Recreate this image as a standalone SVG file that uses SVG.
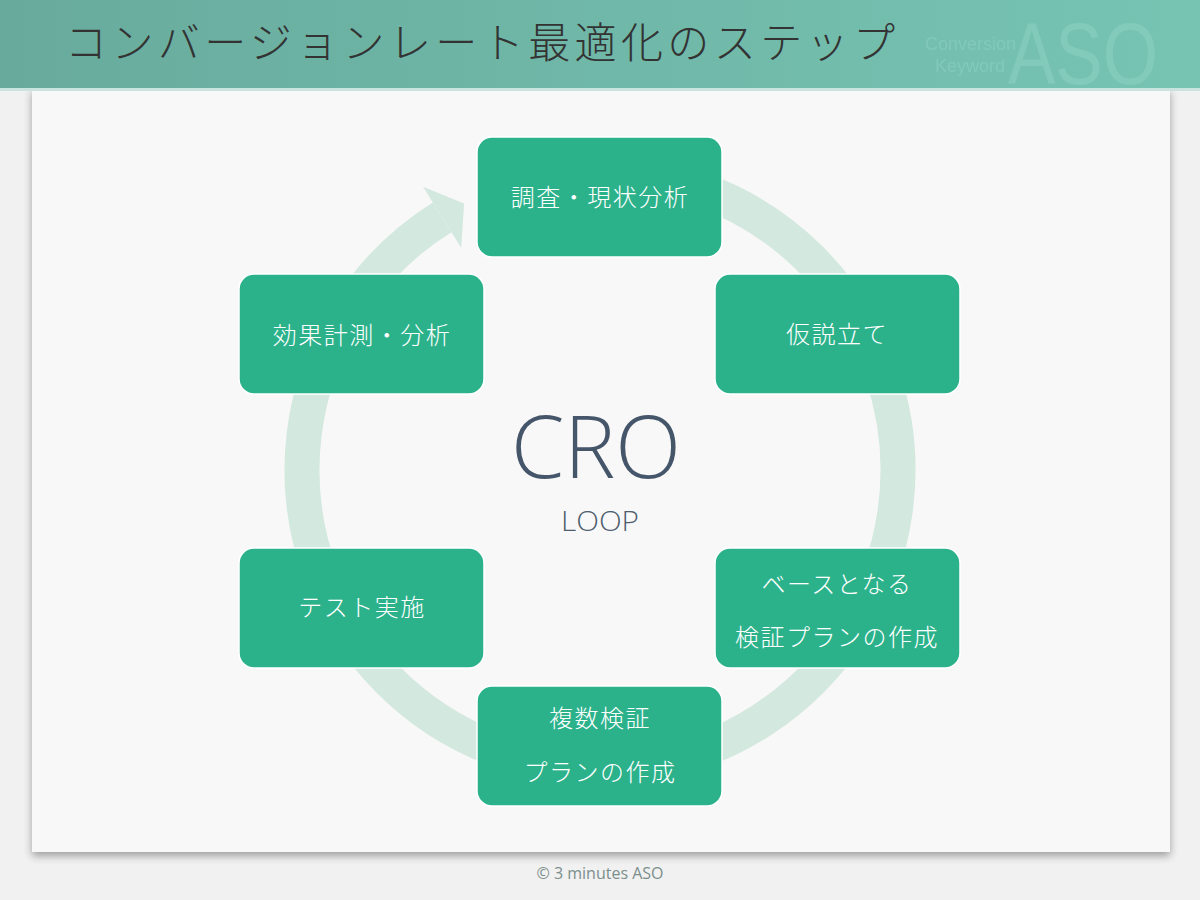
<svg xmlns="http://www.w3.org/2000/svg" width="1200" height="900" viewBox="0 0 1200 900">
<defs>
<linearGradient id="hdr" x1="0" y1="0" x2="1" y2="0">
<stop offset="0" stop-color="#68ab9d"/>
<stop offset="1" stop-color="#77c4b3"/>
</linearGradient>
<filter id="sh" x="-5%" y="-5%" width="110%" height="110%">
<feGaussianBlur in="SourceAlpha" stdDeviation="4"/>
<feOffset dx="0" dy="4" result="b"/>
<feComponentTransfer><feFuncA type="linear" slope="0.35"/></feComponentTransfer>
<feMerge><feMergeNode/><feMergeNode in="SourceGraphic"/></feMerge>
</filter>
<style>
.box{fill:#2bb28b;stroke:#ffffff;stroke-width:1.5}
.lbl{font-family:"Noto Sans CJK JP","Noto Sans",sans-serif;font-weight:300;font-size:24px;fill:#ffffff;text-anchor:middle;letter-spacing:1.5px}
.wm{font-family:"Liberation Sans",sans-serif;fill:#8fd3c3;opacity:0.5}
</style>
</defs>
<rect x="0" y="0" width="1200" height="900" fill="#f1f1f1"/>
<rect x="32" y="88" width="1138" height="764" fill="#f8f8f8" filter="url(#sh)"/>
<rect x="0" y="0" width="1200" height="88" fill="url(#hdr)"/>
<rect x="0" y="88" width="1200" height="3" fill="#c9e4dc"/>
<g id="watermark">
<text class="wm" x="1008" y="84" font-size="88" textLength="150" lengthAdjust="spacingAndGlyphs">ASO</text>
<text class="wm" x="925" y="50" font-size="18">Conversion</text>
<text class="wm" x="935" y="72" font-size="18">Keyword</text>
</g>
<text x="65" y="58" font-family="'Noto Sans CJK JP',sans-serif" font-weight="300" font-size="42" letter-spacing="4.4" fill="#333333">コンバージョンレート最適化のステップ</text>
<g id="connectors">
<path d="M 701.9 190.0 A 298 298 0 1 1 442.1 217.3" fill="none" stroke="#d3e8df" stroke-width="35"/>
<polygon points="464.1,203.5 423.0,186.8 461.2,247.8" fill="#d3e8df"/>
</g>
<g id="center">
<text x="596" y="478" font-family="'Open Sans','Noto Sans',sans-serif" font-weight="300" font-size="86" fill="#46566a" text-anchor="middle">CRO</text>
<text x="600" y="531" font-family="'Open Sans','Noto Sans',sans-serif" font-weight="300" font-size="28" fill="#4e5d6e" text-anchor="middle" textLength="78" lengthAdjust="spacingAndGlyphs">LOOP</text>
</g>
<g id="n1"><rect class="box" x="477" y="137" width="245" height="120" rx="15"/><text class="lbl" x="600" y="206">調査・現状分析</text></g>
<g id="n2"><rect class="box" x="715" y="274" width="245" height="120" rx="15"/><text class="lbl" x="837" y="343">仮説立て</text></g>
<g id="n3"><rect class="box" x="715" y="548" width="245" height="120" rx="15"/><text class="lbl" x="837" y="593">ベースとなる</text><text class="lbl" x="837" y="646">検証プランの作成</text></g>
<g id="n4"><rect class="box" x="477" y="686" width="245" height="120" rx="15"/><text class="lbl" x="600" y="727">複数検証</text><text class="lbl" x="600" y="781">プランの作成</text></g>
<g id="n5"><rect class="box" x="239" y="548" width="245" height="120" rx="15"/><text class="lbl" x="362" y="616">テスト実施</text></g>
<g id="n6"><rect class="box" x="239" y="274" width="245" height="120" rx="15"/><text class="lbl" x="362" y="344">効果計測・分析</text></g>
<text x="600" y="879" font-family="'Open Sans','Noto Sans',sans-serif" font-size="16" fill="#7b8f8c" text-anchor="middle">© 3 minutes ASO</text>
</svg>
